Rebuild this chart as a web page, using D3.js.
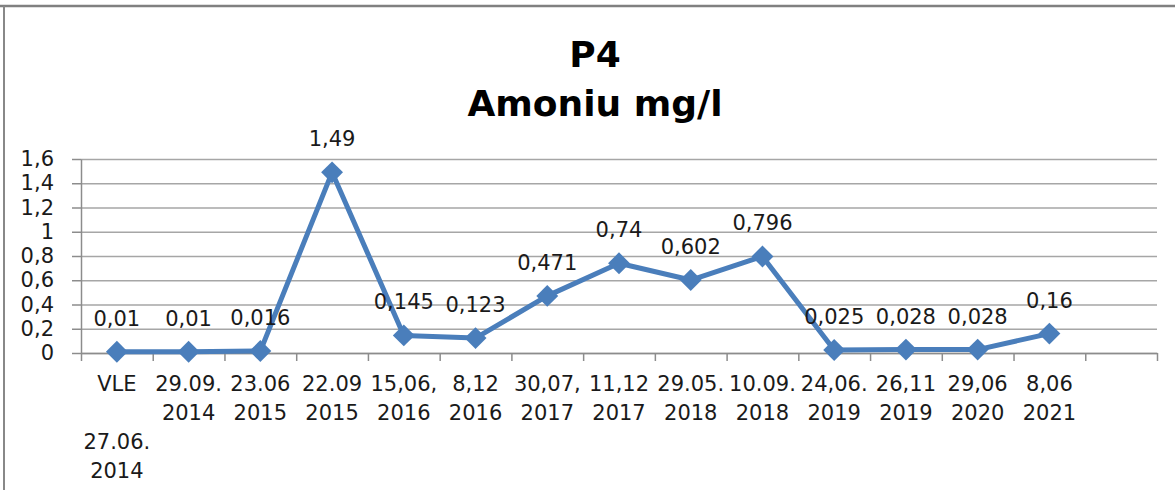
<!DOCTYPE html>
<html>
<head>
<meta charset="utf-8">
<script src="https://cdn.jsdelivr.net/npm/d3@7"></script>
<style>
  body { margin: 0; background: #fff; }
  svg { display: block; font-family: "DejaVu Sans", sans-serif; }
  .axis path, .axis line { stroke: #8c8c8c; stroke-width: 1.5; }
  .grid line { stroke: #a6a6a6; stroke-width: 1.5; }
  .grid path { display: none; }
</style>
</head>
<body>
<script>
var categories = [
  ["VLE", "", "27.06.", "2014"],
  ["29.09.", "2014"],
  ["23.06", "2015"],
  ["22.09", "2015"],
  ["15,06,", "2016"],
  ["8,12", "2016"],
  ["30,07,", "2017"],
  ["11,12", "2017"],
  ["29.05.", "2018"],
  ["10.09.", "2018"],
  ["24,06.", "2019"],
  ["26,11", "2019"],
  ["29,06", "2020"],
  ["8,06", "2021"],
  [""]
];
var values = [0.01, 0.01, 0.016, 1.49, 0.145, 0.123, 0.471, 0.74, 0.602, 0.796, 0.025, 0.028, 0.028, 0.16];
var valueLabels = ["0,01", "0,01", "0,016", "1,49", "0,145", "0,123", "0,471", "0,74", "0,602", "0,796", "0,025", "0,028", "0,028", "0,16"];
var yTicks = [0, 0.2, 0.4, 0.6, 0.8, 1, 1.2, 1.4, 1.6];

var W = 1175, H = 490;
var margin = {top: 159, right: 18, bottom: 137, left: 81},
    width = W - margin.left - margin.right,
    height = H - margin.top - margin.bottom;

var svg = d3.select("body").append("svg")
    .attr("width", W)
    .attr("height", H);

// chart frame (only top and left edges show)
svg.append("line").attr("x1", 0).attr("x2", W).attr("y1", 6).attr("y2", 6)
    .attr("stroke", "#808080").attr("stroke-width", 2.5);
svg.append("line").attr("x1", 4).attr("x2", 4).attr("y1", 6).attr("y2", H)
    .attr("stroke", "#888").attr("stroke-width", 2);

// title
var title = svg.append("text")
    .attr("text-anchor", "middle")
    .attr("font-weight", "bold")
    .attr("font-size", "36px")
    .attr("fill", "#000");
title.append("tspan").attr("x", 595).attr("y", 67).text("P4");
title.append("tspan").attr("x", 595).attr("y", 116).text("Amoniu mg/l");

var g = svg.append("g")
    .attr("transform", "translate(" + margin.left + "," + margin.top + ")");

var x = d3.scaleBand()
    .domain(d3.range(categories.length))
    .range([0, width]);

var xEdge = d3.scaleLinear()
    .domain([0, categories.length])
    .range([0, width]);

var y = d3.scaleLinear()
    .domain([0, 1.6])
    .range([height, 0]);

var fmt = function(d) { return String(+d.toFixed(1)).replace(".", ","); };

// horizontal gridlines
g.append("g")
    .attr("class", "grid")
    .call(d3.axisLeft(y).tickValues(yTicks).tickSize(-width).tickFormat(""));

// y axis
var yAxis = g.append("g")
    .attr("class", "axis")
    .call(d3.axisLeft(y).tickValues(yTicks).tickSize(9).tickSizeOuter(0).tickPadding(18).tickFormat(fmt));
yAxis.attr("font-family", null).attr("font-size", null);
yAxis.selectAll("text")
    .attr("font-size", "21px")
    .attr("fill", "#1a1a1a");

// x axis, ticks between categories
g.append("g")
    .attr("class", "axis")
    .attr("transform", "translate(0," + height + ")")
    .call(d3.axisBottom(xEdge).tickValues(d3.range(categories.length + 1)).tickSize(8).tickSizeOuter(0).tickFormat(""));

// category labels
var catLabels = g.append("g")
  .selectAll("text")
  .data(categories)
  .join("text")
    .attr("text-anchor", "middle")
    .attr("font-size", "21px")
    .attr("fill", "#1a1a1a")
    .attr("transform", function(d, i) { return "translate(" + (x(i) + x.bandwidth() / 2) + "," + (height + 38) + ")"; });

catLabels.selectAll("tspan")
  .data(function(d) { return d; })
  .join("tspan")
    .attr("x", 0)
    .attr("y", function(d, i) { return i * 29; })
    .text(function(d) { return d; });

var cx = function(d, i) { return x(i) + x.bandwidth() / 2; };

var line = d3.line()
    .x(cx)
    .y(function(d) { return y(d); });

g.append("path")
    .datum(values)
    .attr("fill", "none")
    .attr("stroke", "#4a7ebb")
    .attr("stroke-width", 5)
    .attr("stroke-linejoin", "round")
    .attr("d", line);

g.selectAll(".marker")
  .data(values)
  .join("path")
    .attr("class", "marker")
    .attr("fill", "#4a7ebb")
    .attr("d", d3.symbol(d3.symbolSquare, 240))
    .attr("transform", function(d, i) { return "translate(" + cx(d, i) + "," + y(d) + ") rotate(45)"; });

g.selectAll(".vlabel")
  .data(values)
  .join("text")
    .attr("class", "vlabel")
    .attr("text-anchor", "middle")
    .attr("font-size", "21px")
    .attr("fill", "#1a1a1a")
    .attr("x", cx)
    .attr("y", function(d) { return y(d) - 26; })
    .text(function(d, i) { return valueLabels[i]; });
</script>
</body>
</html>
